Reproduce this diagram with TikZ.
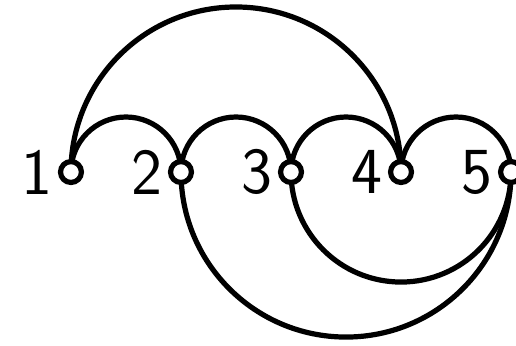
\documentclass[tikz,border=0pt]{standalone}
\usetikzlibrary{backgrounds}

\tikzset{
    vertex/.style={circle, draw, fill=white, line width=2.7pt,
        minimum size=0.38cm, inner sep=0pt,
        label={[font=\sffamily\fontsize{34}{34}\selectfont, inner sep=0pt,
            label distance=0.09cm]left:#1}},
    edge/.style={line width=2.7pt}
}

\begin{document}
\begin{tikzpicture}

    % Marco
    \useasboundingbox (-1.29,-3.145) rectangle (8.09,3.127);

    % Vertices
    \foreach \i in {1,...,5}
        \node[vertex=\i] (v\i) at ({2*(\i-1)},0) {};

    \begin{pgfonlayer}{background}
    % Arcos de arriba
        \draw[edge] (v1.center) arc[start angle=180, end angle=0, radius=1];
        \draw[edge] (v2.center) arc[start angle=180, end angle=0, radius=1];
        \draw[edge] (v3.center) arc[start angle=180, end angle=0, radius=1];
        \draw[edge] (v4.center) arc[start angle=180, end angle=0, radius=1];
        \draw[edge] (v1.center) arc[start angle=180, end angle=0, radius=3];

    % Arcos de abajo
        \draw[edge] (v3.center) arc[start angle=180, end angle=360, radius=2];
        \draw[edge] (v2.center) arc[start angle=180, end angle=360, radius=3];
    \end{pgfonlayer}

\end{tikzpicture}
\end{document}
